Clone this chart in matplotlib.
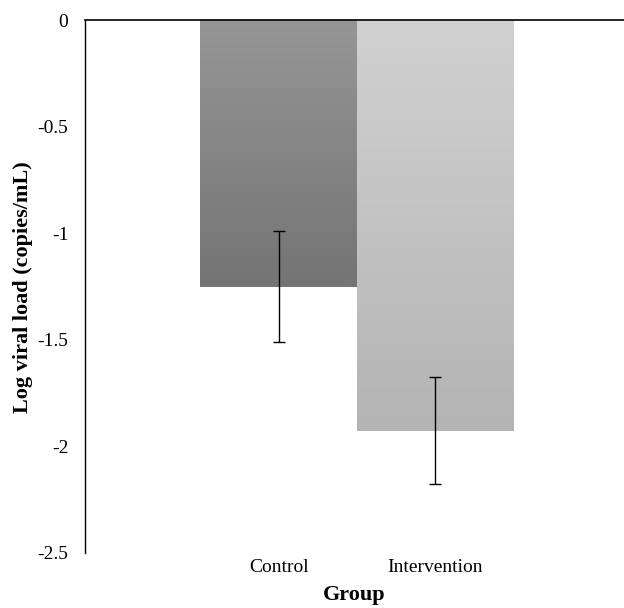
import numpy as np
import matplotlib.pyplot as plt
from matplotlib.colors import LinearSegmentedColormap

plt.rcParams['font.family'] = ['Liberation Serif', 'DejaVu Serif']

groups = ["Control", "Intervention"]
means = [-1.25, -1.925]
errors = [0.26, 0.25]
# gradient colours for each bar, top -> bottom
grad_top = ["#969696", "#d1d1d1"]
grad_bottom = ["#747474", "#b4b4b4"]

fig = plt.figure(figsize=(6.24, 6.08), dpi=100)
ax = fig.add_axes([0.1362, 0.0905, 0.8638, 0.8758])

x = np.arange(len(groups))
bars = ax.bar(x, means, width=1.0, color="none", edgecolor="none", zorder=2)

# gradient fill clipped to each bar
for bar, c0, c1 in zip(bars, grad_top, grad_bottom):
    x0 = bar.get_x()
    w = bar.get_width()
    h = bar.get_height()
    cmap = LinearSegmentedColormap.from_list("g", [c0, c1])
    grad = np.linspace(0, 1, 256).reshape(-1, 1)
    im = ax.imshow(grad, cmap=cmap, aspect="auto", origin="upper",
                   extent=[x0, x0 + w, h, 0], zorder=2)
    im.set_clip_path(bar)

ax.errorbar(x, means, yerr=errors, fmt="none", ecolor="black",
            elinewidth=1, capsize=4.5, capthick=1, zorder=3)

ax.set_ylim(-2.5, 0)
ax.set_xlim(-1.237, 2.205)
ax.set_yticks([0, -0.5, -1, -1.5, -2, -2.5])
ax.set_yticklabels(["0", "-0.5", "-1", "-1.5", "-2", "-2.5"])
ax.set_xticks(x)
ax.set_xticklabels(groups)

ax.spines["right"].set_visible(False)
ax.spines["bottom"].set_visible(False)
ax.spines["top"].set_linewidth(1.2)
ax.spines["left"].set_linewidth(1.0)

ax.tick_params(axis="y", length=0, pad=12, labelsize=14)
ax.tick_params(axis="x", length=0, pad=4, labelsize=14)

ax.set_xlabel("Group", fontsize=16, fontweight="bold", labelpad=7)
ax.set_ylabel("Log viral load (copies/mL)", fontsize=16, fontweight="bold", labelpad=3)

fig.savefig("out.png", dpi=100)
